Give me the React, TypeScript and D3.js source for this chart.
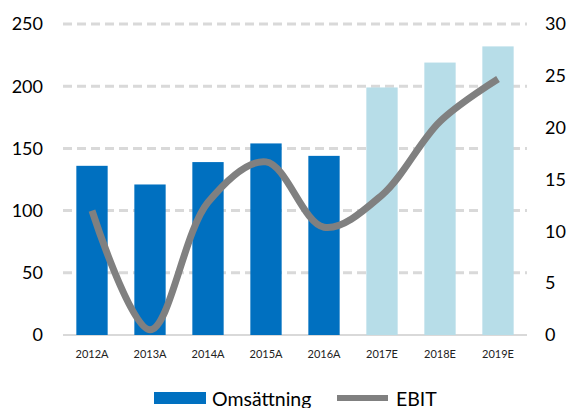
import React, { useEffect } from 'react';
import * as d3 from 'd3';

const categories = ['2012A', '2013A', '2014A', '2015A', '2016A', '2017E', '2018E', '2019E'];
const revenue = [136, 121, 139, 154, 144, 199, 219, 232];
const ebit = [12, 0.5, 12.8, 16.7, 10.4, 13.5, 20.6, 24.7];
const forecast = [false, false, false, false, false, true, true, true];
const leftTicks = [0, 50, 100, 150, 200, 250];
const rightTicks = [0, 5, 10, 15, 20, 25, 30];

const W = 571;
const H = 408;
const FONT = 'Lato, "Open Sans", sans-serif';

const App: React.FC = () => {
  useEffect(() => {
    document.body.style.margin = '0';
  }, []);

  const x = d3.scaleBand<string>()
    .domain(categories)
    .range([63, 527])
    .paddingInner(0.46)
    .paddingOuter(0.23);
  const yL = d3.scaleLinear().domain([0, 250]).range([335, 24]);
  const yR = d3.scaleLinear().domain([0, 30]).range([335, 24]);

  const line = d3.line<number>()
    .x((_, i) => x(categories[i])! + x.bandwidth() / 2)
    .y(d => yR(d))
    .curve(d3.curveCatmullRom.alpha(0.5));

  return (
    <svg width={W} height={H} style={{ display: 'block', background: '#fff' }} fontFamily={FONT}>
      {/* grid */}
      {leftTicks.filter(t => t > 0).map(t => (
        <line key={t} x1={63} x2={527} y1={yL(t)} y2={yL(t)}
          stroke="#d9d9d9" strokeWidth={3} strokeDasharray="9 5" />
      ))}
      <line x1={63} x2={527} y1={yL(0)} y2={yL(0)} stroke="#d9d9d9" strokeWidth={2} />

      {/* bars */}
      {revenue.map((v, i) => (
        <rect key={categories[i]} x={x(categories[i])} y={yL(v)}
          width={x.bandwidth()} height={yL(0) - yL(v)}
          fill={forecast[i] ? '#b7dde8' : '#0070c0'} />
      ))}

      {/* EBIT line */}
      <path d={line(ebit) || ''} fill="none" stroke="#808080" strokeWidth={7} strokeLinecap="butt" />

      {/* left axis */}
      {leftTicks.map(t => (
        <text key={t} x={43} y={yL(t)} dy="0.35em" textAnchor="end" fontSize={18} fill="#000">{t}</text>
      ))}
      {/* right axis */}
      {rightTicks.map(t => (
        <text key={t} x={545} y={yR(t)} dy="0.35em" textAnchor="start" fontSize={18} fill="#000">{t}</text>
      ))}
      {/* categories */}
      {categories.map(c => (
        <text key={c} x={x(c)! + x.bandwidth() / 2} y={354} dy="0.35em" textAnchor="middle" fontSize={11} fill="#222">{c}</text>
      ))}

      {/* legend */}
      <rect x={154} y={392} width={52} height={12} fill="#0070c0" />
      <text x={212} y={406} fontSize={19.5} fill="#000">Omsättning</text>
      <rect x={337} y={395} width={51} height={6} fill="#808080" />
      <text x={396} y={406} fontSize={19.5} fill="#000">EBIT</text>
    </svg>
  );
};

export default App;
